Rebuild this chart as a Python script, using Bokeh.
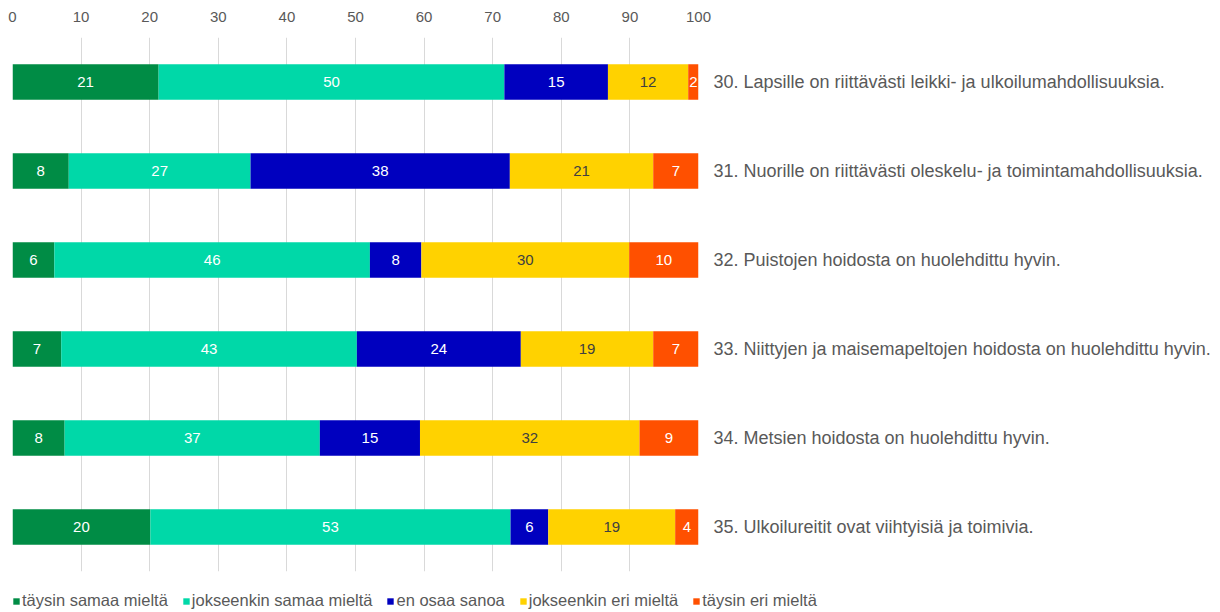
from bokeh.plotting import figure
from bokeh.models import ColumnDataSource, FactorRange, Range1d, FixedTicker, Legend, LegendItem
from bokeh.core.properties import value
from bokeh.embed import file_html
from bokeh.resources import INLINE

questions = [
    "30. Lapsille on riittävästi leikki- ja ulkoilumahdollisuuksia.",
    "31. Nuorille on riittävästi oleskelu- ja toimintamahdollisuuksia.",
    "32. Puistojen hoidosta on huolehdittu hyvin.",
    "33. Niittyjen ja maisemapeltojen hoidosta on huolehdittu hyvin.",
    "34. Metsien hoidosta on huolehdittu hyvin.",
    "35. Ulkoilureitit ovat viihtyisiä ja toimivia.",
]
series_names = ["täysin samaa mieltä", "jokseenkin samaa mieltä", "en osaa sanoa",
                "jokseenkin eri mieltä", "täysin eri mieltä"]
colors = ["#008C45", "#00D8A8", "#0000BF", "#FFD200", "#FF5000"]
label_colors = ["#FFFFFF", "#FFFFFF", "#FFFFFF", "#404040", "#FFFFFF"]

# segment widths (percent)
taysin_samaa = [21.3, 8.2, 6.1, 7.1, 7.6, 20.1]
jokseenkin_samaa = [50.4, 26.5, 46.0, 43.1, 37.2, 52.5]
en_osaa = [15.1, 37.8, 7.5, 23.9, 14.6, 5.5]
jokseenkin_eri = [11.7, 20.9, 30.3, 19.3, 32.0, 18.5]
taysin_eri = [1.5, 6.6, 10.1, 6.6, 8.6, 3.4]

# data labels shown on the bars
lbl_taysin_samaa = [21, 8, 6, 7, 8, 20]
lbl_jokseenkin_samaa = [50, 27, 46, 43, 37, 53]
lbl_en_osaa = [15, 38, 8, 24, 15, 6]
lbl_jokseenkin_eri = [12, 21, 30, 19, 32, 19]
lbl_taysin_eri = [2, 7, 10, 7, 9, 4]

series = [taysin_samaa, jokseenkin_samaa, en_osaa, jokseenkin_eri, taysin_eri]
labels = [lbl_taysin_samaa, lbl_jokseenkin_samaa, lbl_en_osaa, lbl_jokseenkin_eri, lbl_taysin_eri]
keys = ["s0", "s1", "s2", "s3", "s4"]

data = {"q": questions}
for k, s in zip(keys, series):
    data[k] = s
source = ColumnDataSource(data)

FONT = "Liberation Sans"

p = figure(frame_width=686, frame_height=534, y_range=FactorRange(*reversed(questions)),
           x_range=Range1d(0, 100), x_axis_location="above", y_axis_location="right",
           output_backend="svg", toolbar_location=None,
           min_border_left=12, min_border_top=37, min_border_bottom=39, min_border_right=518)

renderers = p.hbar_stack(keys, y="q", height=0.4, color=colors, line_color=None, source=source)

# data labels
for i, (s, l) in enumerate(zip(series, labels)):
    xs, ys, ts = [], [], []
    for j, q in enumerate(questions):
        left = sum(series[k][j] for k in range(i))
        xs.append(left + s[j] / 2)
        ys.append(q)
        ts.append(str(l[j]))
    src = ColumnDataSource(dict(x=xs, y=ys, t=ts))
    p.text(x="x", y="y", text="t", source=src, text_align="center", text_baseline="middle",
           text_color=label_colors[i], text_font=value(FONT), text_font_size="15px")

p.xaxis.ticker = FixedTicker(ticks=list(range(0, 101, 10)))
p.xaxis.axis_line_color = None
p.xaxis.major_tick_line_color = None
p.xaxis.minor_tick_line_color = None
p.xaxis.major_label_text_color = "#595959"
p.xaxis.major_label_text_font = FONT
p.xaxis.major_label_text_font_size = "15px"
p.xaxis.major_label_standoff = 10

p.yaxis.axis_line_color = None
p.yaxis.major_tick_line_color = None
p.yaxis.minor_tick_line_color = None
p.yaxis.major_label_text_color = "#595959"
p.yaxis.major_label_text_font = FONT
p.yaxis.major_label_text_font_size = "18px"
p.yaxis.major_label_standoff = 9

p.xgrid.grid_line_color = "#D9D9D9"
p.ygrid.grid_line_color = None
p.outline_line_color = None

legend = Legend(items=[LegendItem(label=n, renderers=[r]) for n, r in zip(series_names, renderers)],
                orientation="horizontal", location="top_left", margin=0, padding=0,
                title=" ", title_text_font_size="12px", title_standoff=6,
                glyph_width=8, glyph_height=8, label_standoff=2, spacing=14,
                label_text_font=FONT, label_text_font_size="16.5px", label_text_color="#595959",
                label_height=16, border_line_color=None, background_fill_alpha=0)
p.add_layout(legend, "below")

open("out.html", "w").write(file_html(p, INLINE))
